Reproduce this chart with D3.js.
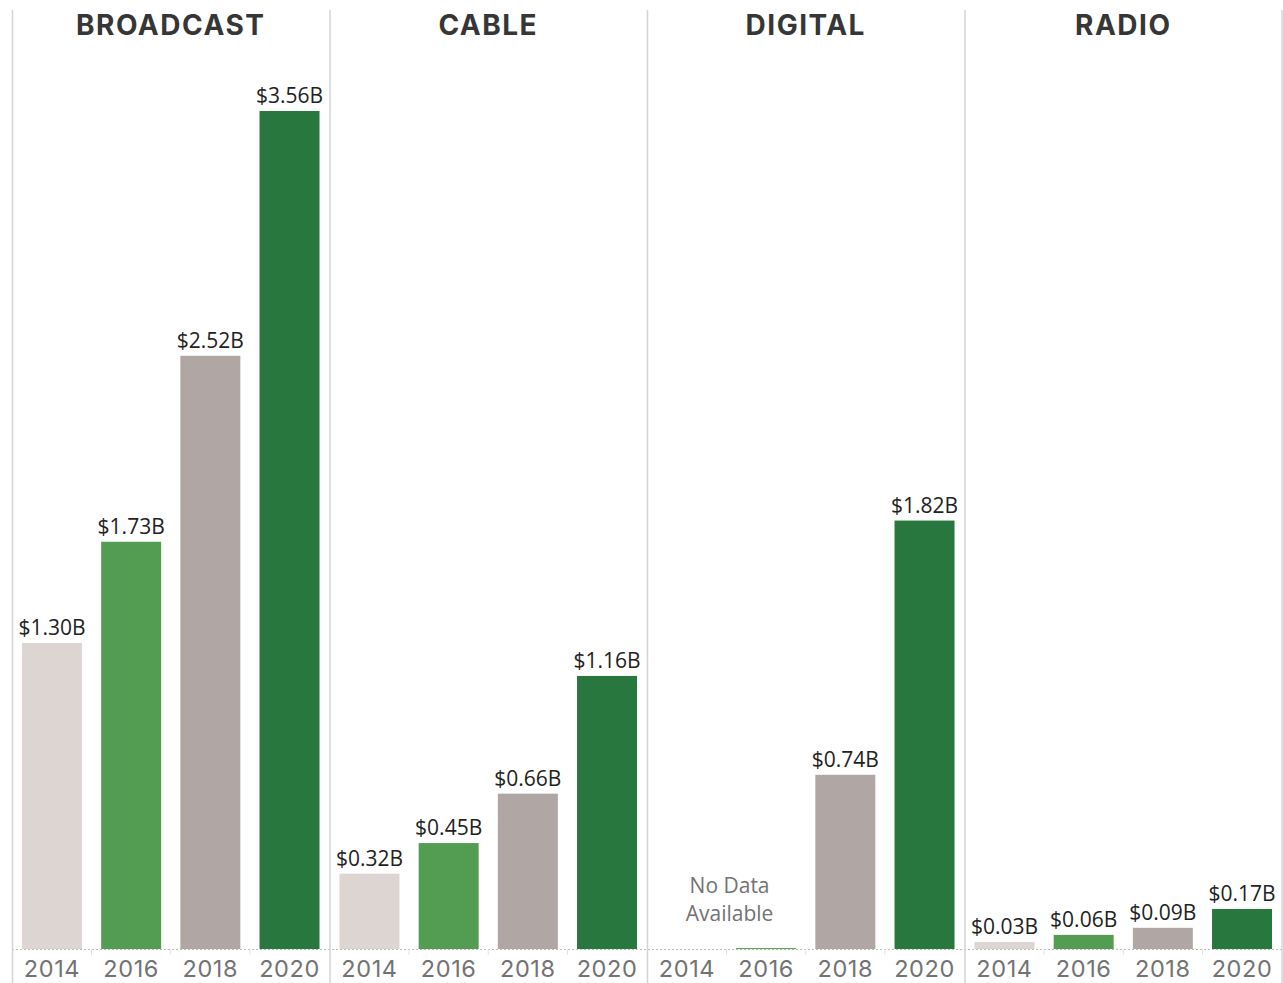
<!DOCTYPE html>
<html lang="en">
<head>
    <meta charset="UTF-8">
    <title>Ad Spending by Media Type</title>
    <style>
        body {
            margin: 0;
            padding: 0;
            background-color: #ffffff;
        }
        svg { display: block; }
    </style>
</head>
<body>
    <svg width="1283" height="983"></svg>

    <script src="https://d3js.org/d3.v7.min.js"></script>

    <script>
        // Data (billions of dollars); null = no data
        let mediaTypes = ["BROADCAST", "CABLE", "DIGITAL", "RADIO"];
        let years = ["2014", "2016", "2018", "2020"];
        let broadcast = [1.30, 1.73, 2.52, 3.56];
        let cable = [0.32, 0.45, 0.66, 1.16];
        let digital = [null, 0.004, 0.74, 1.82];
        let radio = [0.03, 0.06, 0.09, 0.17];
        let yearColors = ["#ddd5d2", "#529d52", "#b0a6a3", "#28773e"];
        let noDataNote = ["No Data", "Available"];

        let seriesByMedia = [broadcast, cable, digital, radio];

        let width = 1283, height = 983;
        let baseY = 949;

        let svg = d3.select("svg")
            .attr("viewBox", "0 0 " + width + " " + height);

        // Scales
        let xPanel = d3.scaleBand()
            .domain(mediaTypes)
            .range([12, 1282])
            .padding(0);

        let xYear = d3.scaleBand()
            .domain(years)
            .range([0, xPanel.bandwidth()])
            .paddingInner(0.2424)
            .paddingOuter(0.126);

        let y = d3.scaleLinear()
            .domain([0, 4])
            .range([baseY, baseY - 4 * 235.4]);

        let color = d3.scaleOrdinal()
            .domain(years)
            .range(yearColors);

        // Dotted baseline
        svg.append("line")
            .attr("x1", 12).attr("x2", 1282)
            .attr("y1", baseY + 0.5).attr("y2", baseY + 0.5)
            .attr("stroke", "#bbbbbb")
            .attr("stroke-width", 1)
            .attr("stroke-dasharray", "2,2");

        // Panel divider lines
        svg.append("g")
            .selectAll("line")
            .data(mediaTypes)
            .enter()
            .append("line")
            .attr("x1", d => xPanel(d) + 0.5)
            .attr("x2", d => xPanel(d) + 0.5)
            .attr("y1", 10)
            .attr("y2", height)
            .attr("stroke", "#d4d4d4")
            .attr("stroke-width", 1.5);

        svg.append("line")
            .attr("x1", 1282).attr("x2", 1282)
            .attr("y1", 10).attr("y2", height)
            .attr("stroke", "#d4d4d4")
            .attr("stroke-width", 1.5);

        let panels = svg.selectAll("g.panel")
            .data(mediaTypes)
            .enter()
            .append("g")
            .attr("class", "panel")
            .attr("transform", d => "translate(" + xPanel(d) + ",0)");

        // Panel titles
        panels.append("text")
            .attr("x", xPanel.bandwidth() / 2)
            .attr("y", 35)
            .attr("text-anchor", "middle")
            .style("font-family", "Inter, 'Open Sans', sans-serif")
            .style("font-weight", "700")
            .style("font-size", "28px")
            .style("letter-spacing", "1.5px")
            .style("fill", "#363636")
            .text(d => d);

        // Bars + labels
        panels.each(function(m, i) {
            let g = d3.select(this);
            let rows = years.map((yr, j) => ({ year: yr, value: seriesByMedia[i][j] }));

            // small separator ticks between years on the baseline
            g.selectAll("line.tick")
                .data(years.slice(1))
                .enter()
                .append("line")
                .attr("class", "tick")
                .attr("x1", d => xYear(d) - (xYear.step() - xYear.bandwidth()) / 2)
                .attr("x2", d => xYear(d) - (xYear.step() - xYear.bandwidth()) / 2)
                .attr("y1", baseY)
                .attr("y2", baseY + 6)
                .attr("stroke", "#e2e2e2")
                .attr("stroke-width", 1);

            g.selectAll("rect")
                .data(rows.filter(d => d.value != null))
                .enter()
                .append("rect")
                .attr("x", d => xYear(d.year))
                .attr("width", xYear.bandwidth())
                .attr("y", d => y(d.value))
                .attr("height", d => Math.max(1, baseY - y(d.value)))
                .attr("fill", d => color(d.year));

            g.selectAll("text.value")
                .data(rows.filter(d => d.value != null && d.value >= 0.01))
                .enter()
                .append("text")
                .attr("class", "value")
                .attr("x", d => xYear(d.year) + xYear.bandwidth() / 2)
                .attr("y", d => y(d.value) - 8)
                .attr("text-anchor", "middle")
                .style("font-family", "'Open Sans', sans-serif")
                .style("font-size", "21px")
                .style("fill", "#222222")
                .text(d => "$" + d.value.toFixed(2) + "B");

            // Year axis labels
            g.selectAll("text.year")
                .data(years)
                .enter()
                .append("text")
                .attr("class", "year")
                .attr("x", d => xYear(d) + xYear.bandwidth() / 2)
                .attr("y", 977)
                .attr("text-anchor", "middle")
                .style("font-family", "Inter, 'Open Sans', sans-serif")
                .style("font-size", "23.5px")
                .style("letter-spacing", "0.6px")
                .style("fill", "#737373")
                .text(d => d);

            // No data note
            if (rows.some(d => d.value == null)) {
                let cx = xYear(years[1]) - (xYear.step() - xYear.bandwidth()) / 2 + 3;
                g.append("text")
                    .attr("x", cx)
                    .attr("y", 893)
                    .attr("text-anchor", "middle")
                    .style("font-family", "'Open Sans', sans-serif")
                    .style("font-size", "21px")
                    .style("fill", "#737373")
                    .selectAll("tspan")
                    .data(noDataNote)
                    .enter()
                    .append("tspan")
                    .attr("x", cx)
                    .attr("dy", (d, k) => k == 0 ? 0 : 28)
                    .text(d => d);
            }
        });
    </script>
</body>
</html>
